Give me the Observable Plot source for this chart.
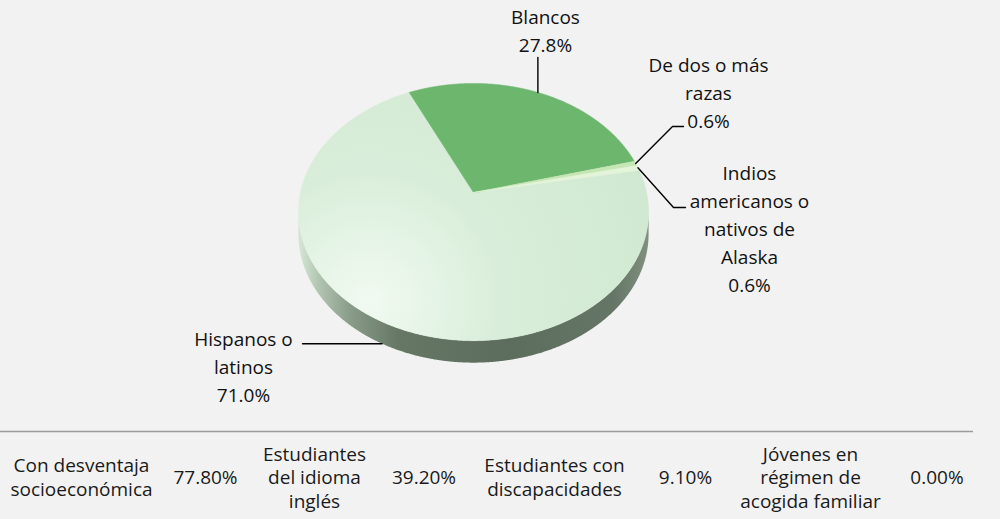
<!DOCTYPE html>
<html>
<head>
<meta charset="utf-8">
<script src="https://cdn.jsdelivr.net/npm/d3@7"></script>
<script src="https://cdn.jsdelivr.net/npm/@observablehq/plot@0.6"></script>
<style>
  html, body { margin: 0; padding: 0; background: #f2f2f2; }
  #chart { width: 1000px; height: 519px; }
</style>
</head>
<body>
<div id="chart"></div>
<script>
// ---------------- DATA ----------------
const sliceNames = ["Blancos", "De dos o más razas", "Indios americanos o nativos de Alaska", "Hispanos o latinos"];
const slicePct = [27.8, 0.6, 0.6, 71.0];
const sliceLabelLines = [
  ["Blancos"],
  ["De dos o más", "razas"],
  ["Indios", "americanos o", "nativos de", "Alaska"],
  ["Hispanos o", "latinos"]
];
const tableNames = ["Con desventaja socioeconómica", "Estudiantes del idioma inglés", "Estudiantes con discapacidades", "Jóvenes en régimen de acogida familiar"];
const tableLabelLines = [
  ["Con desventaja", "socioeconómica"],
  ["Estudiantes", "del idioma", "inglés"],
  ["Estudiantes con", "discapacidades"],
  ["Jóvenes en", "régimen de", "acogida familiar"]
];
const tableValues = [77.8, 39.2, 9.1, 0.0];

// ---------------- LAYOUT / STYLE ----------------
const sliceColors = ["#6cb66e", "#c6e7b4", "#e3f4d9", "url(#hispGrad)"];
const startAngle = -25;               // degrees, clockwise from the far side
const P = {cx: 473, cy: 192, D: 4.53, cphi: 0.688, sphi: 0.726, f: 784, depth: 22};
const labelPos = [  // text centre x, baseline of last line
  {x: 545, y: 51.5}, {x: 708, y: 127}, {x: 749, y: 291}, {x: 243, y: 401}
];
const leaderBends = [
  a => [[a[0], 57]],
  a => [[672, 126], [683, 126]],
  a => [[673, 207], [685, 207]],
  a => [[302, a[1]]]
];
const labelLineGap = 28;
const tableLabelX = [81, 314, 554, 810];
const tableValueX = [205, 423.5, 685, 936.5];
const tableMidBaseline = 483.5, tableLineGap = 23.5;
const ruleY = 431;

// perspective projection of a point on the pie top (r in 0..1, angle in degrees)
function project(deg, r = 1, drop = 0) {
  const t = deg * Math.PI / 180;
  const den = P.D + r * P.cphi * Math.cos(t);
  return [P.cx + P.f * r * Math.sin(t) / den,
          P.cy - P.f * P.sphi * r * Math.cos(t) / den + drop];
}
function arc(a0, a1, drop = 0, step = 0.25) {
  const pts = [];
  const n = Math.max(2, Math.ceil(Math.abs(a1 - a0) / step));
  for (let i = 0; i <= n; i++) pts.push(project(a0 + (a1 - a0) * i / n, 1, drop));
  return pts;
}

// slices
const total = d3.sum(slicePct);
let acc = startAngle;
const slices = sliceNames.map((name, i) => {
  const a0 = acc, a1 = acc + slicePct[i] / total * 360;
  acc = a1;
  return {name, a0, a1, mid: (a0 + a1) / 2, pct: slicePct[i]};
});

const slicePts = [];
[3, 0, 1, 2].forEach(i => {
  const s = slices[i];
  const apex = project(0, 0);
  slicePts.push({name: s.name, x: apex[0], y: apex[1]});
  arc(s.a0, s.a1).forEach(([x, y]) => slicePts.push({name: s.name, x, y}));
});

// side band (front half visible)
const aR = Math.acos(-P.cphi / P.D) * 180 / Math.PI;
const aL = 360 - aR;
const sidePts = [...arc(aR, aL, 0), ...arc(aL, aR, P.depth)].map(([x, y]) => ({x, y}));

// shadow ellipse
const shadowPts = arc(0, 360, P.depth + 6, 1).map(([x, y]) => ({x: x + 5, y}));

// leader lines
const leaderPts = [];
slices.forEach((s, i) => {
  const onSide = s.mid > aR && s.mid < aL;
  const a = project(s.mid, 1, onSide ? P.depth : 0);
  [a, ...leaderBends[i](a)].forEach(([x, y]) => leaderPts.push({name: s.name, x, y}));
});

// pie label text lines
const pieText = [];
slices.forEach((s, i) => {
  const lines = [...sliceLabelLines[i], `${s.pct.toFixed(1)}%`];
  const m = lines.length;
  lines.forEach((t, j) => pieText.push({x: labelPos[i].x, y: labelPos[i].y - (m - 1 - j) * labelLineGap, t}));
});

// table text
const tableText = [];
tableNames.forEach((n, i) => {
  const lines = tableLabelLines[i];
  const m = lines.length;
  lines.forEach((t, j) => tableText.push({x: tableLabelX[i], y: tableMidBaseline + (j - (m - 1) / 2) * tableLineGap, t}));
  tableText.push({x: tableValueX[i], y: tableMidBaseline, t: `${tableValues[i].toFixed(2)}%`});
});

const chart = Plot.plot({
  width: 1000,
  height: 519,
  margin: 0,
  style: {background: "#f2f2f2", overflow: "visible"},
  x: {domain: [0, 1000], range: [0, 1000], axis: null},
  y: {domain: [0, 519], range: [0, 519], axis: null},
  color: {domain: [...sliceNames, "side", "shadow"], range: [...sliceColors, "url(#sideGrad)", "#000"]},
  marks: [
    Plot.line(shadowPts, {x: "x", y: "y", curve: "linear-closed", fill: () => "shadow", fillOpacity: 0.3, stroke: "none", ariaLabel: "pie-shadow"}),
    Plot.line(sidePts, {x: "x", y: "y", curve: "linear-closed", fill: () => "side", stroke: "none"}),
    Plot.line(slicePts, {x: "x", y: "y", z: "name", curve: "linear-closed", fill: "name", stroke: "name", strokeWidth: 0.5}),
    Plot.line(leaderPts, {x: "x", y: "y", z: "name", stroke: "#000", strokeWidth: 1.4}),
    Plot.text(pieText, {x: "x", y: "y", text: "t", textAnchor: "middle", lineAnchor: "bottom", fontSize: 19, fontFamily: "Open Sans", fill: "#111", ariaLabel: "pie-labels"}),
    Plot.ruleY([ruleY], {x1: 0, x2: 973, stroke: "#9b9b9b", strokeWidth: 1.5}),
    Plot.text(tableText, {x: "x", y: "y", text: "t", textAnchor: "middle", lineAnchor: "bottom", fontSize: 19, fontFamily: "Open Sans", fill: "#1a1a1a"})
  ]
});

// gradients & blur
const svg = d3.select(chart);
const defs = svg.insert("defs", ":first-child");
const hg = defs.append("radialGradient").attr("id", "hispGrad")
  .attr("gradientUnits", "userSpaceOnUse").attr("cx", 370).attr("cy", 300).attr("r", 320);
hg.append("stop").attr("offset", "0").attr("stop-color", "#f1faf1");
hg.append("stop").attr("offset", "0.4").attr("stop-color", "#d9eeda");
hg.append("stop").attr("offset", "1").attr("stop-color", "#cfe7cf");
const sg = defs.append("linearGradient").attr("id", "sideGrad")
  .attr("gradientUnits", "userSpaceOnUse").attr("x1", 300).attr("x2", 648).attr("y1", 0).attr("y2", 0);
[[0, "#d2e3d2"], [0.05, "#b3c6b3"], [0.14, "#8a9d8a"], [0.28, "#667766"], [0.6, "#5d6d5d"], [0.9, "#667666"], [1, "#7f907f"]]
  .forEach(([o, c]) => sg.append("stop").attr("offset", o).attr("stop-color", c));
const bl = defs.append("filter").attr("id", "blur").attr("x", "-20%").attr("y", "-20%").attr("width", "140%").attr("height", "140%");
bl.append("feGaussianBlur").attr("stdDeviation", 5);
svg.select('g[aria-label="pie-shadow"]').attr("filter", "url(#blur)");
svg.select('g[aria-label="pie-labels"]').attr("letter-spacing", "0.6px");

document.getElementById("chart").appendChild(chart);
</script>
</body>
</html>
